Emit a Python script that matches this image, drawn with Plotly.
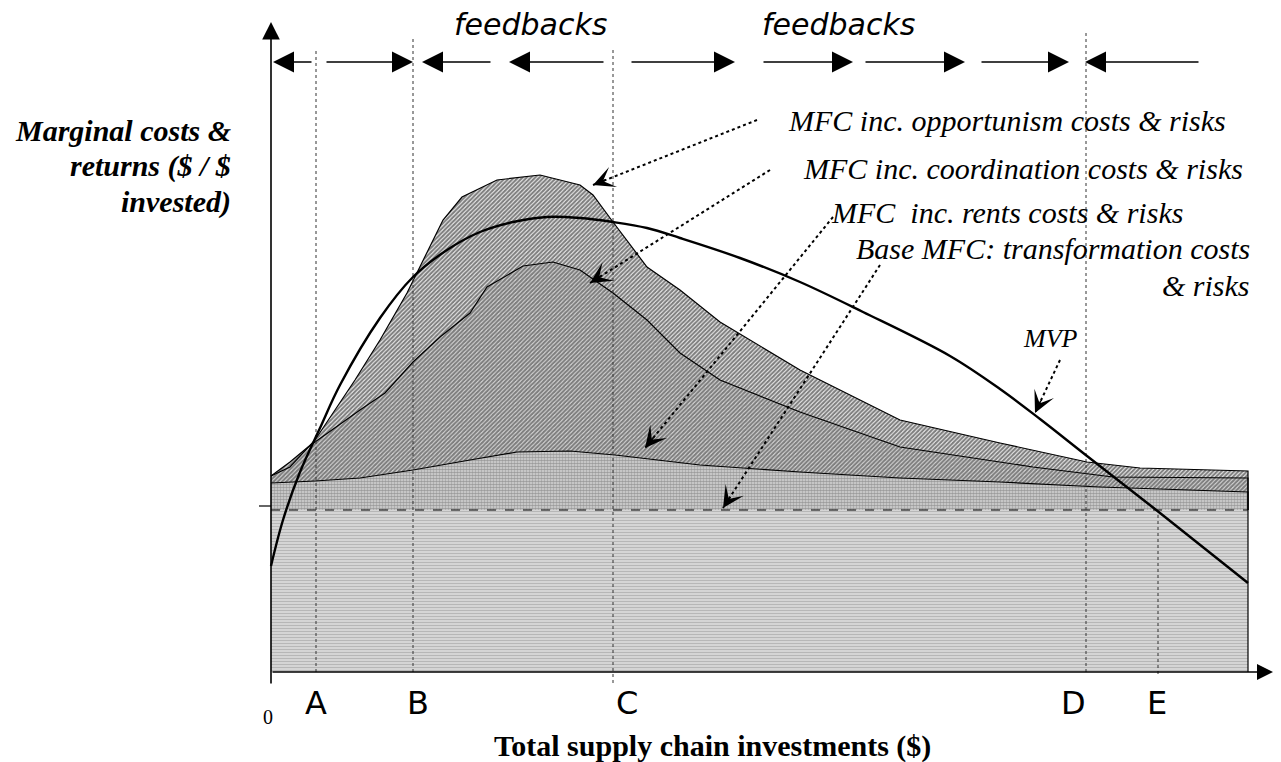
import plotly.graph_objects as go

# ---------------- data (x: total investment units, y: marginal $ / $ invested) -------------
X_RANGE = [-27.1, 101.0]
Y_RANGE = [-25.2, 51.0]
X_END = 97.7          # right end of the cost bands
Y_FLOOR = -16.2       # level of the horizontal axis

# MFC incl. rents
rents_x = [0, 4.4, 8.9, 14.2, 19.9, 24.6, 29.9, 34.4, 42.9, 52.9, 62.9, 72.9, 82.9, 97.7]
rents_y = [2.7, 2.9, 3.2, 4.0, 5.0, 5.8, 5.9, 5.5, 4.5, 3.8, 3.2, 2.8, 2.3, 1.8]

# MFC incl. coordination
coord_x = [0, 1.9, 3.7, 5.9, 8.9, 11.4, 14.2, 16.9, 19.9, 21.6, 25.2, 28.2, 30.9, 34.2,
           37.6, 40.9, 44.9, 52.9, 62.9, 76.2, 84.2, 97.7]
coord_y = [3.4, 4.8, 6.3, 7.9, 10.0, 11.7, 14.8, 17.3, 19.7, 22.3, 24.4, 24.8, 24.0, 21.7,
           19.0, 15.7, 13.0, 9.8, 6.3, 4.3, 3.3, 3.2]

# MFC incl. opportunism
opp_x = [0, 1.9, 4.4, 8.4, 10.9, 13.6, 17.2, 19.1, 22.6, 26.9, 30.9, 32.2, 34.2, 37.6,
         40.9, 44.9, 52.9, 62.9, 72.9, 81.6, 86.9, 97.7]
opp_y = [3.4, 4.3, 7.0, 13.0, 17.0, 21.7, 29.0, 31.3, 33.0, 33.5, 32.5, 31.5, 28.8, 24.3,
         22.0, 18.8, 14.0, 9.0, 6.7, 4.8, 4.2, 3.9]

# MVP curve
mvp_x = [0, 1.2, 2.9, 4.9, 6.9, 10.9, 14.2, 17.6, 20.9, 24.2, 27.6, 30.9, 34.2, 37.6,
         40.9, 46.9, 52.9, 59.2, 67.9, 72.9, 76.9, 81.6, 88.9, 97.7]
mvp_y = [-5.6, -1.0, 3.8, 8.2, 12.5, 19.2, 23.3, 26.0, 27.8, 28.8, 29.3, 29.2, 28.8, 28.2,
         27.2, 25.2, 22.8, 19.8, 15.4, 12.1, 9.1, 5.4, -0.3, -7.3]

# investment levels A..E (with dotted guide extents)
level_names = ["A", "B", "C", "D", "E"]
level_x = [4.5, 14.2, 34.2, 81.5, 88.7]
level_top = [46.2, 47.1, 46.3, 48.0, -0.5]
level_bottom = [-16.2, -16.2, -17.3, -16.2, -16.4]
level_label_x = [4.5, 14.7, 35.6, 80.2, 88.6]

# feedback arrows along the top (tail -> tip)
fb_tail = [4.2, 5.4, 22.1, 33.4, 35.9, 49.1, 59.3, 70.9, 92.9]
fb_tip = [0.2, 14.2, 15.1, 23.8, 46.4, 58.2, 69.4, 79.8, 81.4]
FB_Y = 44.8
feedback_text_x = [25.9, 56.7]

# labels with dotted pointers: (text, label x, label y, anchor, tail x, tail y, tip x, tip y)
pointer_labels = [
    ("MFC inc. opportunism costs & risks", 95.7, 39.0, "right", 48.6, 39.0, 32.2, 32.5),
    ("MFC inc. coordination costs & risks", 97.4, 34.2, "right", 49.9, 34.0, 31.9, 22.7),
    ("MFC\u00a0 inc. rents costs & risks", 91.4, 29.8, "right", 56.2, 29.3, 37.4, 6.2),
    ("Base MFC: transformation costs", 98.1, 26.2, "right", 60.9, 24.5, 45.2, 0.2),
    ("MVP", 77.9, 17.2, "center", 78.9, 15.0, 76.4, 9.7),
]

y_title_lines = ["Marginal costs &", "returns ($ / $", "invested)"]
y_title_pos = [38.0, 34.4, 30.8]
x_title = "Total supply chain investments ($)"

# ---------------- figure ----------------
fig = go.Figure()

def band(xs, ys, fg, bg, shape, size, solidity):
    px_ = list(xs) + [xs[-1], xs[0]]
    py_ = list(ys) + [0, 0]
    fig.add_trace(go.Scatter(
        x=px_, y=py_, mode="lines", fill="toself", line=dict(width=0),
        fillcolor=bg,
        fillpattern=dict(shape=shape, fgcolor=fg, bgcolor=bg, size=size, solidity=solidity),
        hoverinfo="skip", showlegend=False))

# cost bands (drawn from top layer down so each covers the one above it)
band(opp_x, opp_y, "#000000", "#ffffff", "/", 3, 0.72)
band(coord_x, coord_y, "#000000", "#ffffff", "/", 3, 0.76)
band(rents_x, rents_y, "#5e5e5e", "#dadada", ".", 3, 0.62)

# base MFC band
fig.add_trace(go.Scatter(
    x=[0, X_END, X_END, 0, 0], y=[0, 0, Y_FLOOR, Y_FLOOR, 0], mode="lines", fill="toself",
    line=dict(width=0), fillcolor="#ffffff",
    fillpattern=dict(shape="-", fgcolor="#6f6f6f", bgcolor="#ffffff", size=3, solidity=0.72),
    hoverinfo="skip", showlegend=False))

# band outlines
for xs, ys in [(opp_x, opp_y), (coord_x, coord_y), (rents_x, rents_y)]:
    fig.add_trace(go.Scatter(x=list(xs) + [xs[-1]], y=list(ys) + [0], mode="lines",
                             line=dict(color="#000000", width=1.2),
                             hoverinfo="skip", showlegend=False))
fig.add_trace(go.Scatter(x=[0, X_END], y=[0, 0], mode="lines",
                         line=dict(color="#000000", width=1.2, dash="dash"),
                         hoverinfo="skip", showlegend=False))
fig.add_trace(go.Scatter(x=[X_END, X_END], y=[0, Y_FLOOR], mode="lines",
                         line=dict(color="#000000", width=1.2),
                         hoverinfo="skip", showlegend=False))

# dotted guides for A..E
for lx, lt, lb in zip(level_x, level_top, level_bottom):
    fig.add_trace(go.Scatter(x=[lx, lx], y=[lb, lt], mode="lines",
                             line=dict(color="#333333", width=1, dash="dot"),
                             hoverinfo="skip", showlegend=False))

# MVP
fig.add_trace(go.Scatter(x=mvp_x, y=mvp_y, mode="lines",
                         line=dict(color="#000000", width=2.4, shape="spline", smoothing=1.0),
                         hoverinfo="skip", showlegend=False))

# dotted pointer lines
for (_, _, _, _, tx, ty, hx, hy) in pointer_labels:
    fig.add_trace(go.Scatter(x=[tx, hx], y=[ty, hy], mode="lines",
                             line=dict(color="#000000", width=2, dash="dot"),
                             hoverinfo="skip", showlegend=False))

ann = []
serif_i = dict(family="Liberation Serif, Times New Roman, serif", size=30, color="#000000")

# pointer heads and labels
for (txt, lx, ly, anc, tx, ty, hx, hy) in pointer_labels:
    dx, dy = tx - hx, ty - hy
    n = (dx * dx + dy * dy) ** 0.5
    ann.append(dict(x=hx, y=hy, ax=hx + dx / n * 1.5, ay=hy + dy / n * 1.5,
                    xref="x", yref="y", axref="x", ayref="y", text="",
                    showarrow=True, arrowhead=3, arrowsize=2.4, arrowwidth=1.5,
                    arrowcolor="#000000"))
    f = dict(serif_i)
    if txt == "MVP":
        f["size"] = 26
    ann.append(dict(x=lx, y=ly, xref="x", yref="y", text="<i>%s</i>" % txt,
                    showarrow=False, xanchor=anc, yanchor="middle", font=f))
ann.append(dict(x=98.1, y=22.5, xref="x", yref="y", text="<i>& risks</i>",
                showarrow=False, xanchor="right", yanchor="middle", font=serif_i))

# feedback arrows
for t, h in zip(fb_tail, fb_tip):
    ann.append(dict(x=h, y=FB_Y, ax=t, ay=FB_Y, xref="x", yref="y", axref="x", ayref="y",
                    text="", showarrow=True, arrowhead=2, arrowsize=2.8, arrowwidth=1.5,
                    arrowcolor="#000000"))
for fx in feedback_text_x:
    ann.append(dict(x=fx, y=48.6, xref="x", yref="y", text="<i>feedbacks</i>",
                    showarrow=False, xanchor="center", yanchor="middle",
                    font=dict(family="DejaVu Sans, Verdana, sans-serif", size=30,
                              color="#000000")))

# axes with arrows
ann.append(dict(x=0, y=48.8, ax=0, ay=-17.5, xref="x", yref="y", axref="x", ayref="y",
                text="", showarrow=True, arrowhead=2, arrowsize=2.2, arrowwidth=1.6,
                arrowcolor="#000000"))
ann.append(dict(x=100.2, y=Y_FLOOR, ax=0, ay=Y_FLOOR, xref="x", yref="y", axref="x",
                ayref="y", text="", showarrow=True, arrowhead=2, arrowsize=2.0,
                arrowwidth=1.6, arrowcolor="#000000"))
fig.add_trace(go.Scatter(x=[-1.2, 0], y=[0.4, 0.4], mode="lines",
                         line=dict(color="#000000", width=1.2),
                         hoverinfo="skip", showlegend=False))

# level letters
for nm, lx in zip(level_names, level_label_x):
    ann.append(dict(x=lx, y=-19.3, xref="x", yref="y", text=nm, showarrow=False,
                    xanchor="center", yanchor="middle",
                    font=dict(family="Liberation Sans Narrow, DejaVu Sans, sans-serif",
                              size=32, color="#000000")))
ann.append(dict(x=-0.3, y=-20.7, xref="x", yref="y", text="0", showarrow=False,
                xanchor="center", yanchor="middle",
                font=dict(family="Liberation Serif, serif", size=20, color="#000000")))

# axis titles
for line, yy in zip(y_title_lines, y_title_pos):
    ann.append(dict(x=-3.8, y=yy, xref="x", yref="y", text="<b><i>%s</i></b>" % line,
                    showarrow=False, xanchor="right", yanchor="middle",
                    font=dict(family="Liberation Serif, serif", size=30, color="#000000")))
ann.append(dict(x=44.1, y=-23.6, xref="x", yref="y", text="<b>%s</b>" % x_title,
                showarrow=False, xanchor="center", yanchor="middle",
                font=dict(family="Liberation Serif, serif", size=30, color="#000000")))

fig.update_layout(
    width=1281, height=762,
    margin=dict(l=0, r=0, t=0, b=0, pad=0),
    paper_bgcolor="#ffffff", plot_bgcolor="#ffffff",
    xaxis=dict(range=X_RANGE, visible=False, fixedrange=True),
    yaxis=dict(range=Y_RANGE, visible=False, fixedrange=True),
    annotations=ann, showlegend=False,
)

fig.write_html("out.html",
               config={"displayModeBar": False, "staticPlot": True},
               post_script="document.body.style.margin='0px';"
                           "document.body.style.overflow='hidden';")
